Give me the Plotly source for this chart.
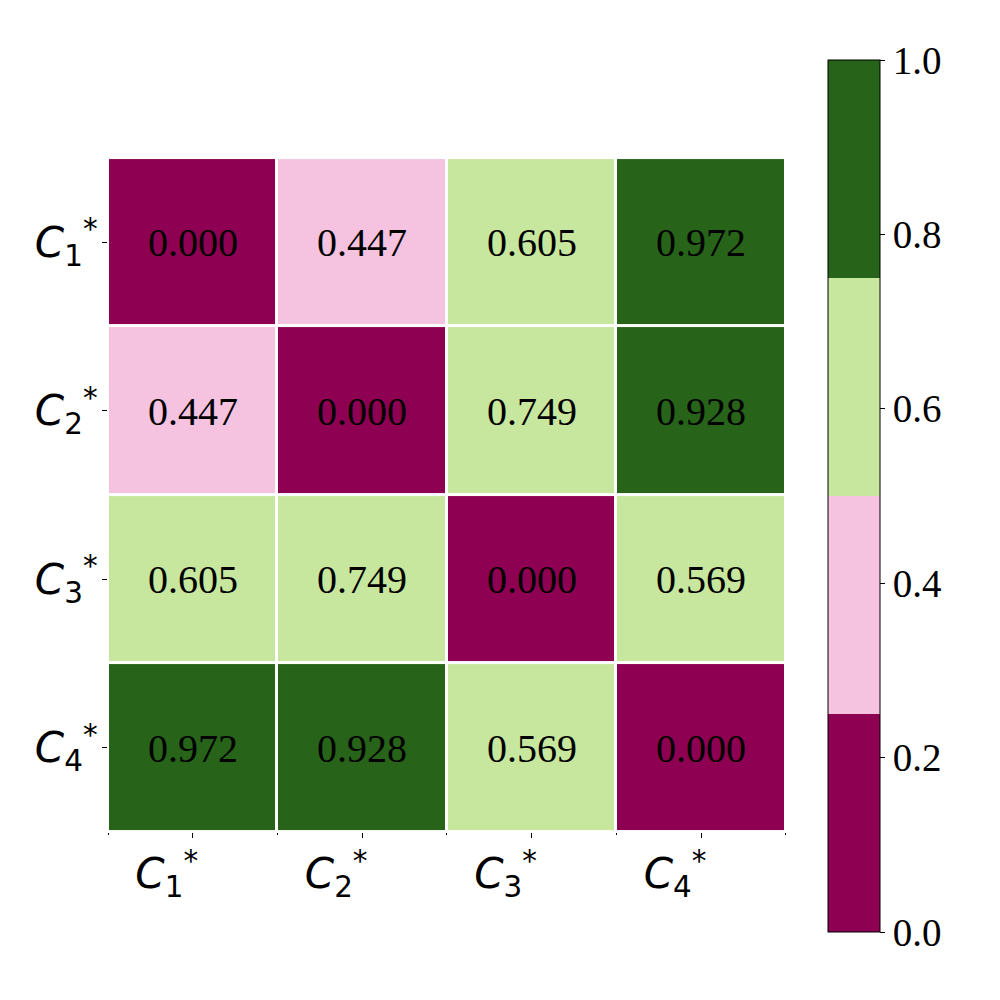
import plotly.graph_objects as go

labels = ["<i>C</i><sub>1</sub><sup>*</sup>", "<i>C</i><sub>2</sub><sup>*</sup>",
          "<i>C</i><sub>3</sub><sup>*</sup>", "<i>C</i><sub>4</sub><sup>*</sup>"]

dist = [
    [0.000, 0.447, 0.605, 0.972],
    [0.447, 0.000, 0.749, 0.928],
    [0.605, 0.749, 0.000, 0.569],
    [0.972, 0.928, 0.569, 0.000],
]

colors = ["#8e0152", "#f5c2e0", "#c8e79e", "#276419"]

# discrete 4-step colourscale
cscale = []
for i, c in enumerate(colors):
    cscale.append([i / 4, c])
    cscale.append([(i + 1) / 4, c])

idx = list(range(len(labels)))

fig = go.Figure(go.Heatmap(
    z=dist,
    x=idx,
    y=idx,
    zmin=0, zmax=1,
    colorscale=cscale,
    xgap=3, ygap=3,
    texttemplate="%{z:.3f}",
    textfont=dict(family="Liberation Serif", size=40, color="black"),
    hoverinfo="skip",
    colorbar=dict(
        x=0.9326, xanchor="left", xpad=0,
        y=0.5, yanchor="middle", ypad=0, len=1,
        thickness=52,
        outlinewidth=1, outlinecolor="black",
        tickvals=[0, 0.2, 0.4, 0.6, 0.8, 1.0],
        ticktext=["0.0", "0.2", "0.4", "0.6", "0.8", "1.0"],
        ticks="outside", ticklen=5, tickcolor="black",
        tickfont=dict(family="Liberation Serif", size=39, color="black"),
    ),
))

fig.update_xaxes(
    domain=[0, 0.878], range=[-0.5, 3.5],
    tickvals=idx, ticktext=labels,
    ticks="outside", ticklen=5, tickcolor="black",
    minor=dict(tick0=0.5, dtick=1, ticks="outside", ticklen=2, tickcolor="black"),
    tickfont=dict(family="DejaVu Sans", size=42, color="black"),
    ticklabelshift=-26,
    showgrid=False, zeroline=False, showline=False,
)
fig.update_yaxes(
    domain=[0.1147, 0.8876], range=[3.5, -0.5],
    tickvals=idx, ticktext=labels,
    ticks="outside", ticklen=5, tickcolor="black",
    tickfont=dict(family="DejaVu Sans", size=42, color="black"),
    ticklabelstandoff=-4,
    showgrid=False, zeroline=False, showline=False,
)

# page body has an 8px margin, so shift everything up-left by 8px
fig.update_layout(
    width=1000, height=1000,
    margin=dict(l=100, r=128, t=52, b=76),
    paper_bgcolor="white", plot_bgcolor="white",
)

fig.write_html("out.html")
